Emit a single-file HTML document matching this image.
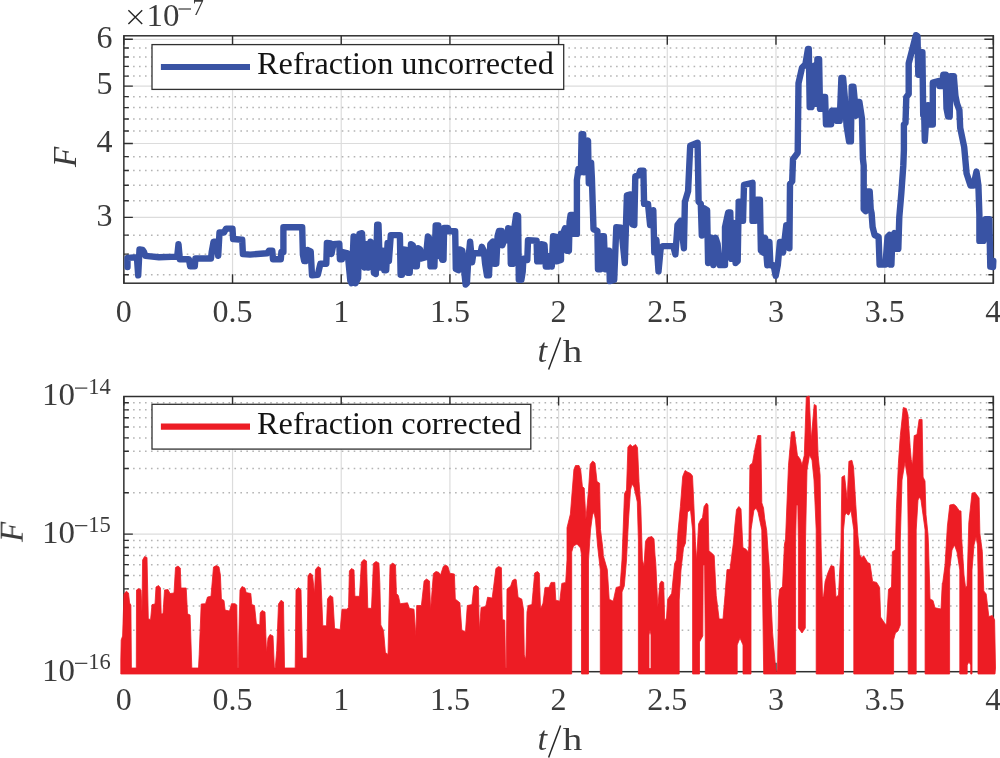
<!DOCTYPE html><html><head><meta charset="utf-8"><style>html,body{margin:0;padding:0;background:#fff;}svg{display:block}</style></head><body>
<svg width="1000" height="758" viewBox="0 0 1000 758">
<rect width="1000" height="758" fill="#fff"/>
<line x1="232.54" y1="35.80" x2="232.54" y2="283.20" stroke="#dcdcdc" stroke-width="1.2"/>
<line x1="341.23" y1="35.80" x2="341.23" y2="283.20" stroke="#dcdcdc" stroke-width="1.2"/>
<line x1="449.91" y1="35.80" x2="449.91" y2="283.20" stroke="#dcdcdc" stroke-width="1.2"/>
<line x1="558.60" y1="35.80" x2="558.60" y2="283.20" stroke="#dcdcdc" stroke-width="1.2"/>
<line x1="667.29" y1="35.80" x2="667.29" y2="283.20" stroke="#dcdcdc" stroke-width="1.2"/>
<line x1="775.98" y1="35.80" x2="775.98" y2="283.20" stroke="#dcdcdc" stroke-width="1.2"/>
<line x1="884.66" y1="35.80" x2="884.66" y2="283.20" stroke="#dcdcdc" stroke-width="1.2"/>
<line x1="123.85" y1="217.40" x2="993.35" y2="217.40" stroke="#dcdcdc" stroke-width="1.2"/>
<line x1="123.85" y1="143.49" x2="993.35" y2="143.49" stroke="#dcdcdc" stroke-width="1.2"/>
<line x1="123.85" y1="86.15" x2="993.35" y2="86.15" stroke="#dcdcdc" stroke-width="1.2"/>
<line x1="123.85" y1="39.31" x2="993.35" y2="39.31" stroke="#dcdcdc" stroke-width="1.2"/>
<line x1="127.1" y1="274.73" x2="991.35" y2="274.73" stroke="#b4b4b4" stroke-width="1.5" stroke-dasharray="1.6 4.363"/>
<line x1="127.1" y1="254.17" x2="991.35" y2="254.17" stroke="#b4b4b4" stroke-width="1.5" stroke-dasharray="1.6 4.363"/>
<line x1="127.1" y1="235.13" x2="991.35" y2="235.13" stroke="#b4b4b4" stroke-width="1.5" stroke-dasharray="1.6 4.363"/>
<line x1="127.1" y1="200.82" x2="991.35" y2="200.82" stroke="#b4b4b4" stroke-width="1.5" stroke-dasharray="1.6 4.363"/>
<line x1="127.1" y1="185.24" x2="991.35" y2="185.24" stroke="#b4b4b4" stroke-width="1.5" stroke-dasharray="1.6 4.363"/>
<line x1="127.1" y1="170.56" x2="991.35" y2="170.56" stroke="#b4b4b4" stroke-width="1.5" stroke-dasharray="1.6 4.363"/>
<line x1="127.1" y1="156.66" x2="991.35" y2="156.66" stroke="#b4b4b4" stroke-width="1.5" stroke-dasharray="1.6 4.363"/>
<line x1="127.1" y1="130.95" x2="991.35" y2="130.95" stroke="#b4b4b4" stroke-width="1.5" stroke-dasharray="1.6 4.363"/>
<line x1="127.1" y1="119.00" x2="991.35" y2="119.00" stroke="#b4b4b4" stroke-width="1.5" stroke-dasharray="1.6 4.363"/>
<line x1="127.1" y1="107.58" x2="991.35" y2="107.58" stroke="#b4b4b4" stroke-width="1.5" stroke-dasharray="1.6 4.363"/>
<line x1="127.1" y1="96.64" x2="991.35" y2="96.64" stroke="#b4b4b4" stroke-width="1.5" stroke-dasharray="1.6 4.363"/>
<line x1="127.1" y1="76.08" x2="991.35" y2="76.08" stroke="#b4b4b4" stroke-width="1.5" stroke-dasharray="1.6 4.363"/>
<line x1="127.1" y1="66.38" x2="991.35" y2="66.38" stroke="#b4b4b4" stroke-width="1.5" stroke-dasharray="1.6 4.363"/>
<line x1="127.1" y1="57.04" x2="991.35" y2="57.04" stroke="#b4b4b4" stroke-width="1.5" stroke-dasharray="1.6 4.363"/>
<line x1="127.1" y1="48.02" x2="991.35" y2="48.02" stroke="#b4b4b4" stroke-width="1.5" stroke-dasharray="1.6 4.363"/>
<path d="M123.85,283.20v-9M123.85,35.80v9M232.54,283.20v-9M232.54,35.80v9M341.23,283.20v-9M341.23,35.80v9M449.91,283.20v-9M449.91,35.80v9M558.60,283.20v-9M558.60,35.80v9M667.29,283.20v-9M667.29,35.80v9M775.98,283.20v-9M775.98,35.80v9M884.66,283.20v-9M884.66,35.80v9M993.35,283.20v-9M993.35,35.80v9M123.85,217.40h9M993.35,217.40h-9M123.85,143.49h9M993.35,143.49h-9M123.85,86.15h9M993.35,86.15h-9M123.85,39.31h9M993.35,39.31h-9M123.85,274.73h5M993.35,274.73h-5M123.85,254.17h5M993.35,254.17h-5M123.85,235.13h5M993.35,235.13h-5M123.85,200.82h5M993.35,200.82h-5M123.85,185.24h5M993.35,185.24h-5M123.85,170.56h5M993.35,170.56h-5M123.85,156.66h5M993.35,156.66h-5M123.85,130.95h5M993.35,130.95h-5M123.85,119.00h5M993.35,119.00h-5M123.85,107.58h5M993.35,107.58h-5M123.85,96.64h5M993.35,96.64h-5M123.85,76.08h5M993.35,76.08h-5M123.85,66.38h5M993.35,66.38h-5M123.85,57.04h5M993.35,57.04h-5M123.85,48.02h5M993.35,48.02h-5" stroke="#303030" stroke-width="1.4" fill="none"/>
<rect x="123.85" y="35.80" width="869.50" height="247.40" fill="none" stroke="#303030" stroke-width="1.5"/>
<polyline points="127.5,267.0 127.5,257.9 136.9,257.2 138.2,275.4 139.5,249.4 142.7,250.0 144.0,252.0 145.4,255.9 159.0,257.2 177.2,256.6 178.5,244.2 179.8,259.2 188.9,259.2 190.2,266.3 194.8,266.3 195.4,258.5 211.0,258.5 211.7,252.0 213.6,241.6 216.2,241.6 218.2,255.9 219.5,232.5 224.0,232.5 226.0,228.6 232.5,228.6 233.1,239.0 242.2,239.7 242.9,254.0 250.0,254.6 267.1,253.3 269.0,250.7 272.3,250.7 273.0,259.2 280.8,259.2 281.4,252.0 283.4,252.0 283.4,227.3 302.2,227.3 302.9,254.6 304.2,261.1 305.5,261.1 307.4,250.0 310.7,251.4 312.0,275.4 317.8,274.8 320.4,263.7 326.3,263.7 326.9,242.9 330.8,243.5 331.5,254.0 333.4,244.2 339.3,243.6 339.9,259.2 341.9,259.2 342.5,252.0 347.7,253.3 350.3,280.6 351.6,283.2 353.6,236.4 355.5,283.2 358.1,278.0 359.4,233.8 362.0,233.2 362.7,244.2 364.6,267.6 366.6,244.2 367.9,267.6 370.5,241.6 372.0,244.2 373.9,272.8 375.8,274.0 377.2,224.7 378.5,224.7 379.8,267.6 381.0,250.7 383.0,250.7 384.3,270.2 386.2,270.2 387.6,242.9 388.9,261.1 390.8,235.1 399.9,235.1 400.6,274.8 401.9,274.8 403.2,249.4 406.4,250.0 407.7,272.8 409.7,272.8 411.0,244.2 412.9,245.5 414.9,266.3 416.8,266.3 418.1,248.1 420.1,249.4 421.4,258.5 425.9,257.2 427.9,236.4 429.8,239.0 430.5,266.3 434.4,266.3 435.7,225.4 438.3,225.4 438.9,255.9 440.9,255.9 442.2,259.8 443.5,259.8 444.1,228.0 448.0,228.0 448.7,231.2 455.2,231.2 455.8,268.9 458.4,270.2 459.7,249.4 462.3,250.7 463.6,265.0 465.6,284.5 466.9,283.2 468.2,261.1 470.1,241.6 472.1,262.4 473.4,253.3 480.5,253.3 481.8,246.8 483.8,250.7 485.1,263.7 487.0,275.4 489.0,275.4 490.3,244.2 492.9,241.6 494.2,263.7 496.3,263.7 497.6,236.0 499.0,230.9 501.6,230.9 502.3,245.4 504.2,240.2 506.9,240.2 508.2,228.3 510.2,228.9 510.8,263.9 512.8,263.9 514.1,229.6 516.1,215.1 518.1,215.7 518.8,279.7 521.4,279.7 522.7,271.8 523.4,258.6 527.3,259.9 528.0,240.2 536.6,240.8 537.2,261.3 540.5,261.3 541.2,244.1 544.5,244.8 545.8,266.5 549.1,266.5 549.8,256.0 551.8,266.5 553.1,236.2 556.4,236.8 557.0,261.3 561.0,260.0 561.0,233.6 563.0,233.6 565.0,228.3 566.9,250.7 568.9,250.7 569.6,221.7 570.6,214.9 572.9,214.9 573.7,233.9 576.9,233.9 576.9,180.1 578.5,169.0 580.9,172.2 581.6,134.2 583.2,134.2 584.0,172.2 586.0,145.0 588.0,140.6 588.8,183.3 591.1,162.7 591.9,178.5 593.5,229.2 597.4,230.9 598.0,269.2 600.6,269.2 601.9,236.2 603.9,236.2 605.2,269.2 606.5,250.7 609.1,250.7 609.8,281.1 614.2,279.9 616.3,227.1 621.2,227.6 624.8,263.0 626.9,195.4 630.7,194.4 632.3,224.4 634.3,225.0 635.3,176.4 638.6,175.4 640.2,170.6 643.4,170.6 644.1,203.9 648.0,203.9 650.1,225.0 653.3,210.2 654.3,252.4 656.4,239.7 658.5,271.4 660.7,248.2 662.8,246.1 673.3,246.1 675.4,254.5 677.5,225.0 680.7,220.8 683.9,248.2 684.9,201.8 688.1,191.2 690.2,145.8 697.6,142.7 698.6,201.8 700.8,203.9 701.8,235.5 703.9,208.1 707.1,210.2 708.1,263.0 711.3,237.6 713.4,265.1 715.5,237.6 717.6,244.0 719.8,265.1 725.0,265.1 725.0,227.1 728.2,212.4 730.3,212.4 731.3,258.9 733.5,223.0 735.6,263.1 737.7,261.0 738.7,201.8 740.8,201.8 743.0,220.9 744.0,184.9 752.5,182.8 752.5,220.9 755.6,220.9 756.7,199.7 759.9,199.7 760.9,250.4 763.0,252.5 765.1,237.8 767.3,265.2 769.4,242.0 770.4,265.2 773.6,265.2 775.7,275.8 777.8,265.2 779.9,242.0 782.0,242.0 783.1,252.5 786.3,225.1 788.4,225.1 789.4,248.3 790.0,184.0 792.2,181.3 793.0,159.2 797.7,152.8 798.5,83.2 802.0,67.7 805.4,64.3 808.0,48.9 808.8,48.9 809.7,107.1 811.4,107.1 812.3,67.7 814.0,66.0 814.9,103.7 816.6,103.7 817.4,59.1 819.1,59.1 820.0,108.9 821.7,108.9 822.6,96.9 825.1,96.9 826.0,124.3 831.1,124.3 832.0,110.6 836.3,110.6 837.1,120.9 839.7,120.9 841.4,78.0 843.1,78.0 844.9,98.6 846.6,126.0 849.1,141.4 850.9,141.4 851.7,86.6 853.4,86.6 855.1,103.7 856.0,115.7 857.7,102.0 859.4,102.0 862.0,119.1 862.9,158.6 863.7,165.7 863.7,209.2 865.7,211.2 867.7,191.4 869.7,191.4 870.7,209.2 871.6,213.2 872.6,227.0 874.6,235.0 878.6,236.9 879.6,264.6 885.5,264.6 887.5,236.9 889.4,235.0 890.4,264.6 891.4,264.6 892.4,236.9 894.4,233.0 896.4,248.8 898.3,248.8 899.3,217.1 901.3,193.4 903.3,165.7 903.9,150.0 903.9,124.6 905.5,123.0 906.3,97.2 908.7,94.0 908.7,63.4 915.9,35.2 917.5,36.0 918.3,74.7 919.2,74.7 920.8,52.2 922.4,52.2 923.2,114.9 924.0,105.3 924.8,140.7 925.6,127.8 928.0,105.3 928.8,124.6 932.8,124.6 932.8,82.7 938.5,81.1 939.3,86.0 941.7,86.0 943.3,74.7 945.7,74.7 946.5,108.5 948.1,116.6 949.7,116.6 950.5,76.3 953.8,76.3 955.4,95.6 957.0,103.7 959.4,110.1 960.2,127.8 964.2,147.1 966.6,173.6 970.5,185.5 973.5,185.5 976.5,171.6 978.4,185.5 979.4,215.2 979.4,240.9 983.4,240.9 985.4,219.1 989.3,219.1 990.3,266.6 993.0,267.0 993.3,261.0" fill="none" stroke="#3953a4" stroke-width="6.4" stroke-linejoin="round" stroke-linecap="round"/>
<line x1="232.54" y1="396.50" x2="232.54" y2="671.70" stroke="#dcdcdc" stroke-width="1.2"/>
<line x1="341.23" y1="396.50" x2="341.23" y2="671.70" stroke="#dcdcdc" stroke-width="1.2"/>
<line x1="449.91" y1="396.50" x2="449.91" y2="671.70" stroke="#dcdcdc" stroke-width="1.2"/>
<line x1="558.60" y1="396.50" x2="558.60" y2="671.70" stroke="#dcdcdc" stroke-width="1.2"/>
<line x1="667.29" y1="396.50" x2="667.29" y2="671.70" stroke="#dcdcdc" stroke-width="1.2"/>
<line x1="775.98" y1="396.50" x2="775.98" y2="671.70" stroke="#dcdcdc" stroke-width="1.2"/>
<line x1="884.66" y1="396.50" x2="884.66" y2="671.70" stroke="#dcdcdc" stroke-width="1.2"/>
<line x1="123.85" y1="534.10" x2="993.35" y2="534.10" stroke="#dcdcdc" stroke-width="1.2"/>
<line x1="127.1" y1="630.28" x2="991.35" y2="630.28" stroke="#b4b4b4" stroke-width="1.5" stroke-dasharray="1.6 4.363"/>
<line x1="127.1" y1="606.05" x2="991.35" y2="606.05" stroke="#b4b4b4" stroke-width="1.5" stroke-dasharray="1.6 4.363"/>
<line x1="127.1" y1="588.86" x2="991.35" y2="588.86" stroke="#b4b4b4" stroke-width="1.5" stroke-dasharray="1.6 4.363"/>
<line x1="127.1" y1="575.52" x2="991.35" y2="575.52" stroke="#b4b4b4" stroke-width="1.5" stroke-dasharray="1.6 4.363"/>
<line x1="127.1" y1="564.63" x2="991.35" y2="564.63" stroke="#b4b4b4" stroke-width="1.5" stroke-dasharray="1.6 4.363"/>
<line x1="127.1" y1="555.41" x2="991.35" y2="555.41" stroke="#b4b4b4" stroke-width="1.5" stroke-dasharray="1.6 4.363"/>
<line x1="127.1" y1="547.43" x2="991.35" y2="547.43" stroke="#b4b4b4" stroke-width="1.5" stroke-dasharray="1.6 4.363"/>
<line x1="127.1" y1="540.40" x2="991.35" y2="540.40" stroke="#b4b4b4" stroke-width="1.5" stroke-dasharray="1.6 4.363"/>
<line x1="127.1" y1="492.68" x2="991.35" y2="492.68" stroke="#b4b4b4" stroke-width="1.5" stroke-dasharray="1.6 4.363"/>
<line x1="127.1" y1="468.45" x2="991.35" y2="468.45" stroke="#b4b4b4" stroke-width="1.5" stroke-dasharray="1.6 4.363"/>
<line x1="127.1" y1="451.26" x2="991.35" y2="451.26" stroke="#b4b4b4" stroke-width="1.5" stroke-dasharray="1.6 4.363"/>
<line x1="127.1" y1="437.92" x2="991.35" y2="437.92" stroke="#b4b4b4" stroke-width="1.5" stroke-dasharray="1.6 4.363"/>
<line x1="127.1" y1="427.03" x2="991.35" y2="427.03" stroke="#b4b4b4" stroke-width="1.5" stroke-dasharray="1.6 4.363"/>
<line x1="127.1" y1="417.81" x2="991.35" y2="417.81" stroke="#b4b4b4" stroke-width="1.5" stroke-dasharray="1.6 4.363"/>
<line x1="127.1" y1="409.83" x2="991.35" y2="409.83" stroke="#b4b4b4" stroke-width="1.5" stroke-dasharray="1.6 4.363"/>
<line x1="127.1" y1="402.80" x2="991.35" y2="402.80" stroke="#b4b4b4" stroke-width="1.5" stroke-dasharray="1.6 4.363"/>
<path d="M123.85,671.70v-9M123.85,396.50v9M232.54,671.70v-9M232.54,396.50v9M341.23,671.70v-9M341.23,396.50v9M449.91,671.70v-9M449.91,396.50v9M558.60,671.70v-9M558.60,396.50v9M667.29,671.70v-9M667.29,396.50v9M775.98,671.70v-9M775.98,396.50v9M884.66,671.70v-9M884.66,396.50v9M993.35,671.70v-9M993.35,396.50v9M123.85,534.10h9M993.35,534.10h-9M123.85,630.28h5M993.35,630.28h-5M123.85,606.05h5M993.35,606.05h-5M123.85,588.86h5M993.35,588.86h-5M123.85,575.52h5M993.35,575.52h-5M123.85,564.63h5M993.35,564.63h-5M123.85,555.41h5M993.35,555.41h-5M123.85,547.43h5M993.35,547.43h-5M123.85,540.40h5M993.35,540.40h-5M123.85,492.68h5M993.35,492.68h-5M123.85,468.45h5M993.35,468.45h-5M123.85,451.26h5M993.35,451.26h-5M123.85,437.92h5M993.35,437.92h-5M123.85,427.03h5M993.35,427.03h-5M123.85,417.81h5M993.35,417.81h-5M123.85,409.83h5M993.35,409.83h-5M123.85,402.80h5M993.35,402.80h-5" stroke="#303030" stroke-width="1.4" fill="none"/>
<rect x="123.85" y="396.50" width="869.50" height="275.20" fill="none" stroke="#303030" stroke-width="1.5"/>
<path d="M120.8,674.0 120.8,660.0 121.2,640.0 122.6,636.0 124.0,594.0 126.3,591.2 128.5,593.0 129.6,603.0 130.9,605.0 131.4,668.0 136.3,668.0 136.5,590.0 138.6,588.5 141.0,590.0 142.0,612.0 142.6,560.0 144.6,556.5 147.0,557.5 148.3,619.0 150.6,619.4 152.0,604.6 155.0,604.0 156.0,587.0 158.5,585.5 160.5,588.0 161.2,613.8 163.0,613.8 164.5,590.0 168.0,589.5 170.0,593.5 174.0,593.0 175.5,567.5 178.0,566.0 180.3,568.0 181.0,588.0 186.2,588.0 187.5,613.8 190.1,615.0 191.8,668.0 198.5,668.0 199.2,654.4 201.2,604.0 205.5,603.7 207.5,597.0 211.0,596.3 213.5,567.0 216.5,565.5 219.0,567.0 220.4,575.1 221.4,599.1 224.0,600.5 225.1,610.1 229.5,611.0 231.5,603.7 235.0,603.7 236.8,605.0 237.6,668.0 238.4,668.0 238.8,636.0 240.0,590.0 242.0,586.5 245.0,588.0 246.2,592.6 250.8,593.5 251.8,604.6 254.5,605.5 256.4,624.0 259.8,624.9 260.2,613.0 262.0,610.5 265.0,612.0 266.5,652.6 268.0,638.0 270.0,634.5 273.0,636.0 274.4,668.0 275.2,668.0 276.7,650.7 278.5,604.0 281.0,600.3 283.5,602.0 284.5,668.0 295.2,668.0 296.0,590.0 298.5,587.5 301.0,590.0 302.5,658.1 307.0,658.1 308.0,576.0 310.0,573.0 312.5,575.0 314.5,593.5 315.5,569.5 318.0,566.5 320.5,568.0 322.8,625.8 326.5,625.8 327.5,599.0 330.0,595.5 332.8,597.2 334.6,628.6 340.2,629.5 342.0,609.2 346.6,609.2 348.5,607.4 349.4,571.0 351.5,568.5 354.0,570.0 354.9,596.3 359.5,596.3 361.4,562.0 364.0,559.5 366.5,561.0 367.8,608.3 371.5,608.3 373.4,563.5 376.0,561.5 378.9,563.0 379.8,582.5 380.8,624.9 383.5,630.4 385.4,652.6 388.0,654.4 390.0,565.5 392.5,563.0 395.5,565.0 396.4,593.5 398.3,595.4 400.1,603.7 407.5,602.8 409.4,608.3 414.0,609.2 415.8,636.0 416.7,605.5 421.4,605.5 424.1,581.0 426.5,579.0 429.5,581.0 430.6,610.1 433.4,573.5 436.0,571.5 438.7,572.3 440.5,575.1 443.3,566.5 445.5,565.0 447.9,566.5 449.8,573.2 454.4,574.1 455.3,599.1 459.9,602.8 461.8,630.4 465.5,631.4 467.3,605.5 471.9,604.6 473.8,587.0 476.0,585.5 478.4,587.1 479.3,630.4 481.1,607.4 485.8,606.4 487.6,597.2 492.2,598.1 495.9,568.5 498.5,566.5 501.4,567.7 502.4,619.4 504.8,620.3 505.5,668.0 506.2,668.0 507.0,589.0 510.7,586.1 512.5,580.5 515.0,579.0 516.2,579.7 518.1,597.2 521.8,599.1 523.6,610.1 524.3,655.0 525.8,659.5 527.0,612.0 528.2,605.5 531.9,604.6 534.7,573.0 537.5,571.5 539.3,573.2 540.5,609.0 543.0,603.2 545.0,587.4 549.0,587.4 551.0,582.4 554.8,582.4 555.8,600.2 559.8,601.2 561.8,583.4 565.7,582.4 567.0,560.0 567.0,527.8 570.4,514.0 573.9,469.5 575.5,465.5 579.0,465.5 580.7,470.0 582.4,486.6 584.2,488.0 585.9,519.2 588.5,490.0 590.2,464.3 592.7,461.0 595.0,463.0 597.0,481.5 599.6,483.2 600.5,529.5 603.0,550.0 603.3,555.7 607.3,569.6 609.2,599.2 613.2,601.2 616.2,587.4 620.1,586.4 622.0,560.0 624.5,493.5 626.5,490.0 627.9,447.2 630.0,444.5 632.5,446.5 635.6,444.5 637.5,447.5 639.0,481.5 640.8,507.2 642.4,560.0 644.0,566.0 645.5,541.3 648.0,537.5 651.9,536.5 654.0,539.0 655.0,555.0 655.8,563.6 657.8,607.2 659.8,583.4 661.5,581.0 663.7,582.4 664.7,621.0 666.5,618.0 667.7,599.2 671.7,593.3 674.6,563.6 676.4,560.0 678.0,531.8 680.4,506.5 682.7,476.4 685.1,470.5 687.5,472.0 690.6,473.5 692.5,476.0 693.8,503.3 695.4,541.3 696.5,560.0 697.5,545.0 698.6,523.9 700.5,520.0 702.5,517.6 704.1,506.5 706.5,503.0 708.0,505.0 708.9,550.8 712.8,554.0 714.2,555.7 716.2,595.3 719.1,619.0 723.0,619.0 725.0,595.3 727.0,569.6 730.0,569.6 731.8,555.0 733.4,542.9 735.0,523.9 736.5,509.6 738.9,506.5 741.0,509.0 742.9,547.6 746.0,549.2 748.3,552.0 748.9,546.0 749.9,465.2 752.5,463.0 754.8,449.4 757.8,435.5 760.8,435.5 761.8,502.8 763.5,508.0 764.7,518.6 766.7,530.5 767.7,546.0 769.7,573.5 772.6,632.9 775.6,668.0 776.5,674.0 777.5,668.0 778.6,600.0 779.6,589.3 782.5,586.4 784.5,543.8 785.5,540.0 788.5,465.2 791.4,432.0 794.4,431.5 797.4,455.3 800.3,459.3 802.0,465.0 804.3,455.3 806.3,397.0 809.2,396.0 811.2,440.0 814.2,404.5 816.2,405.5 818.1,455.3 820.1,475.1 821.1,546.0 822.5,597.0 823.5,597.0 825.1,581.4 828.0,572.5 831.0,565.6 834.0,566.5 836.0,597.3 838.5,595.0 840.9,547.8 841.9,477.1 844.5,475.5 847.2,500.0 848.9,461.3 851.9,460.3 853.5,467.0 855.8,504.8 857.8,534.5 859.8,555.0 861.8,557.7 863.7,555.7 867.7,562.6 870.0,563.6 872.6,581.4 876.6,582.4 879.6,587.4 880.6,617.0 884.5,623.0 886.5,625.0 888.5,589.3 891.5,587.0 892.4,551.8 895.4,549.8 896.4,508.8 898.4,463.3 900.3,435.6 903.3,407.5 906.3,408.5 908.0,415.0 910.2,447.4 911.2,459.3 912.5,465.0 914.2,435.6 917.0,434.5 919.1,419.5 922.1,419.5 923.1,477.1 925.0,481.0 926.0,514.7 928.0,534.5 928.5,545.0 930.0,599.0 933.0,600.5 935.0,607.8 938.7,608.5 941.0,609.0 942.3,583.0 942.7,583.0 945.0,565.5 947.4,526.0 949.8,505.0 953.8,504.3 956.0,506.0 959.3,510.7 961.0,511.0 961.7,538.6 964.0,575.0 965.6,587.7 967.0,586.0 968.8,522.8 972.0,493.0 975.1,492.5 979.1,498.0 979.9,533.8 982.3,551.3 983.8,590.9 986.2,594.0 988.8,616.5 992.4,615.5 994.6,620.0 995.5,668.0 995.0,674.0 978.0,674.0 978.0,570.0 977.5,545.0 976.0,537.0 974.0,545.0 972.0,570.0 972.0,674.0 970.7,674.0 970.7,665.0 969.0,662.0 967.2,665.0 967.2,674.0 959.8,674.0 959.8,570.0 957.0,552.0 954.5,545.0 952.0,550.0 949.6,570.0 949.6,674.0 925.1,674.0 925.1,530.0 921.0,500.0 919.5,497.0 918.0,500.0 916.2,530.0 916.2,674.0 908.2,674.0 908.2,530.0 907.5,478.0 905.0,462.0 902.0,480.0 900.3,540.0 900.3,625.0 898.0,631.0 895.4,633.0 893.6,640.0 893.6,674.0 853.8,674.0 853.8,530.0 851.0,510.0 849.0,514.7 848.0,515.0 846.5,513.0 845.0,515.0 843.5,530.0 843.5,674.0 816.2,674.0 816.2,530.0 814.0,480.0 812.0,460.0 809.5,455.0 807.0,470.0 805.5,540.0 805.3,628.0 802.0,633.0 798.4,628.0 798.4,540.0 797.8,505.0 796.4,505.0 795.6,540.0 795.6,674.0 763.7,674.0 761.8,530.0 758.0,512.0 756.0,508.0 753.8,510.7 751.0,530.0 751.0,674.0 743.0,674.0 743.0,645.0 740.0,638.0 737.2,645.0 737.2,674.0 705.3,674.0 705.3,640.0 704.6,565.0 703.2,565.0 702.8,636.0 699.5,642.0 699.5,674.0 692.6,674.0 692.6,530.0 690.5,510.0 687.5,512.0 685.5,543.0 683.5,548.0 681.0,570.0 679.2,600.0 679.2,674.0 638.4,674.0 638.4,540.0 637.3,502.0 634.0,487.0 632.0,484.0 630.5,490.0 628.5,520.0 626.5,560.0 624.3,586.0 622.0,592.0 622.0,674.0 600.3,674.0 600.3,570.0 597.5,545.0 595.5,520.0 594.0,512.0 592.5,515.0 590.5,530.0 588.5,560.0 588.5,674.0 581.5,674.0 581.5,555.0 580.5,548.0 577.0,544.0 573.5,546.0 571.7,552.0 571.7,674.0ZM649.0,668.5 649.0,635.0 650.0,630.0 651.0,635.0 651.0,668.5Z" fill="#ed1c24" fill-rule="evenodd" stroke="#ed1c24" stroke-width="0.8" stroke-linejoin="round"/>
<g opacity="0.995">
<rect x="152" y="44.6" width="411.70000000000005" height="44.800000000000004" fill="#fff" stroke="#303030" stroke-width="1.3"/>
<line x1="160.9" y1="67.00" x2="250" y2="67.00" stroke="#3953a4" stroke-width="6.2"/>
<text x="257" y="74" font-family="Liberation Serif" font-size="32.3" fill="#111">Refraction uncorrected</text>
<rect x="152" y="404.3" width="378.79999999999995" height="44.80000000000001" fill="#fff" stroke="#303030" stroke-width="1.3"/>
<line x1="160.9" y1="426.70" x2="250" y2="426.70" stroke="#ed1c24" stroke-width="6.2"/>
<text x="257" y="433.8" font-family="Liberation Serif" font-size="32.3" fill="#111">Refraction corrected</text>
<text x="123.85" y="321.6" font-family="Liberation Serif" fill="#3a3a3a" font-size="32" text-anchor="middle">0</text>
<text x="123.85" y="709.5" font-family="Liberation Serif" fill="#3a3a3a" font-size="32" text-anchor="middle">0</text>
<text x="232.54" y="321.6" font-family="Liberation Serif" fill="#3a3a3a" font-size="32" text-anchor="middle">0.5</text>
<text x="232.54" y="709.5" font-family="Liberation Serif" fill="#3a3a3a" font-size="32" text-anchor="middle">0.5</text>
<text x="341.23" y="321.6" font-family="Liberation Serif" fill="#3a3a3a" font-size="32" text-anchor="middle">1</text>
<text x="341.23" y="709.5" font-family="Liberation Serif" fill="#3a3a3a" font-size="32" text-anchor="middle">1</text>
<text x="449.91" y="321.6" font-family="Liberation Serif" fill="#3a3a3a" font-size="32" text-anchor="middle">1.5</text>
<text x="449.91" y="709.5" font-family="Liberation Serif" fill="#3a3a3a" font-size="32" text-anchor="middle">1.5</text>
<text x="558.60" y="321.6" font-family="Liberation Serif" fill="#3a3a3a" font-size="32" text-anchor="middle">2</text>
<text x="558.60" y="709.5" font-family="Liberation Serif" fill="#3a3a3a" font-size="32" text-anchor="middle">2</text>
<text x="667.29" y="321.6" font-family="Liberation Serif" fill="#3a3a3a" font-size="32" text-anchor="middle">2.5</text>
<text x="667.29" y="709.5" font-family="Liberation Serif" fill="#3a3a3a" font-size="32" text-anchor="middle">2.5</text>
<text x="775.98" y="321.6" font-family="Liberation Serif" fill="#3a3a3a" font-size="32" text-anchor="middle">3</text>
<text x="775.98" y="709.5" font-family="Liberation Serif" fill="#3a3a3a" font-size="32" text-anchor="middle">3</text>
<text x="884.66" y="321.6" font-family="Liberation Serif" fill="#3a3a3a" font-size="32" text-anchor="middle">3.5</text>
<text x="884.66" y="709.5" font-family="Liberation Serif" fill="#3a3a3a" font-size="32" text-anchor="middle">3.5</text>
<text x="993.35" y="321.6" font-family="Liberation Serif" fill="#3a3a3a" font-size="32" text-anchor="middle">4</text>
<text x="993.35" y="709.5" font-family="Liberation Serif" fill="#3a3a3a" font-size="32" text-anchor="middle">4</text>
<text x="112.6" y="225.60" font-family="Liberation Serif" fill="#3a3a3a" font-size="32" text-anchor="end">3</text>
<text x="112.6" y="151.69" font-family="Liberation Serif" fill="#3a3a3a" font-size="32" text-anchor="end">4</text>
<text x="112.6" y="94.35" font-family="Liberation Serif" fill="#3a3a3a" font-size="32" text-anchor="end">5</text>
<text x="112.6" y="47.51" font-family="Liberation Serif" fill="#3a3a3a" font-size="32" text-anchor="end">6</text>
<text x="42" y="405.30" font-family="Liberation Serif" fill="#3a3a3a" font-size="32" textLength="33" lengthAdjust="spacingAndGlyphs">10</text>
<line x1="75" y1="388.10" x2="87.3" y2="388.10" stroke="#262626" stroke-width="1.1"/>
<text x="88.2" y="393.90" font-family="Liberation Serif" fill="#3a3a3a" font-size="22.5">14</text>
<text x="42" y="542.90" font-family="Liberation Serif" fill="#3a3a3a" font-size="32" textLength="33" lengthAdjust="spacingAndGlyphs">10</text>
<line x1="75" y1="525.70" x2="87.3" y2="525.70" stroke="#262626" stroke-width="1.1"/>
<text x="88.2" y="531.50" font-family="Liberation Serif" fill="#3a3a3a" font-size="22.5">15</text>
<text x="42" y="680.50" font-family="Liberation Serif" fill="#3a3a3a" font-size="32" textLength="33" lengthAdjust="spacingAndGlyphs">10</text>
<line x1="75" y1="663.30" x2="87.3" y2="663.30" stroke="#262626" stroke-width="1.1"/>
<text x="88.2" y="669.10" font-family="Liberation Serif" fill="#3a3a3a" font-size="22.5">16</text>
<path d="M128.4,10.3L142.2,24.1M142.2,10.3L128.4,24.1" stroke="#262626" stroke-width="1.4"/>
<text x="146.5" y="26.3" font-family="Liberation Serif" fill="#3a3a3a" font-size="32" textLength="33" lengthAdjust="spacingAndGlyphs">10</text>
<line x1="178.5" y1="9" x2="191" y2="9" stroke="#262626" stroke-width="1.1"/>
<text x="192.5" y="14.8" font-family="Liberation Serif" fill="#3a3a3a" font-size="22.5">7</text>
<text x="537.6" y="361.6" font-family="Liberation Serif" fill="#3a3a3a" font-size="34.5" font-style="italic">t</text>
<line x1="560.6" y1="337.4" x2="548.6" y2="369.4" stroke="#262626" stroke-width="1.5"/>
<text x="562.8" y="361.6" font-family="Liberation Serif" fill="#3a3a3a" font-size="32" textLength="19.5" lengthAdjust="spacingAndGlyphs">h</text>
<text x="537.6" y="749.6" font-family="Liberation Serif" fill="#3a3a3a" font-size="34.5" font-style="italic">t</text>
<line x1="560.6" y1="725.4" x2="548.6" y2="757.4" stroke="#262626" stroke-width="1.5"/>
<text x="562.8" y="749.6" font-family="Liberation Serif" fill="#3a3a3a" font-size="32" textLength="19.5" lengthAdjust="spacingAndGlyphs">h</text>
<text transform="translate(76.2,157) rotate(-90)" font-family="Liberation Serif" fill="#3a3a3a" font-size="33" font-style="italic" text-anchor="middle">F</text>
<text transform="translate(22.7,532) rotate(-90)" font-family="Liberation Serif" fill="#3a3a3a" font-size="33" font-style="italic" text-anchor="middle">F</text>
</g>
</svg></body></html>
